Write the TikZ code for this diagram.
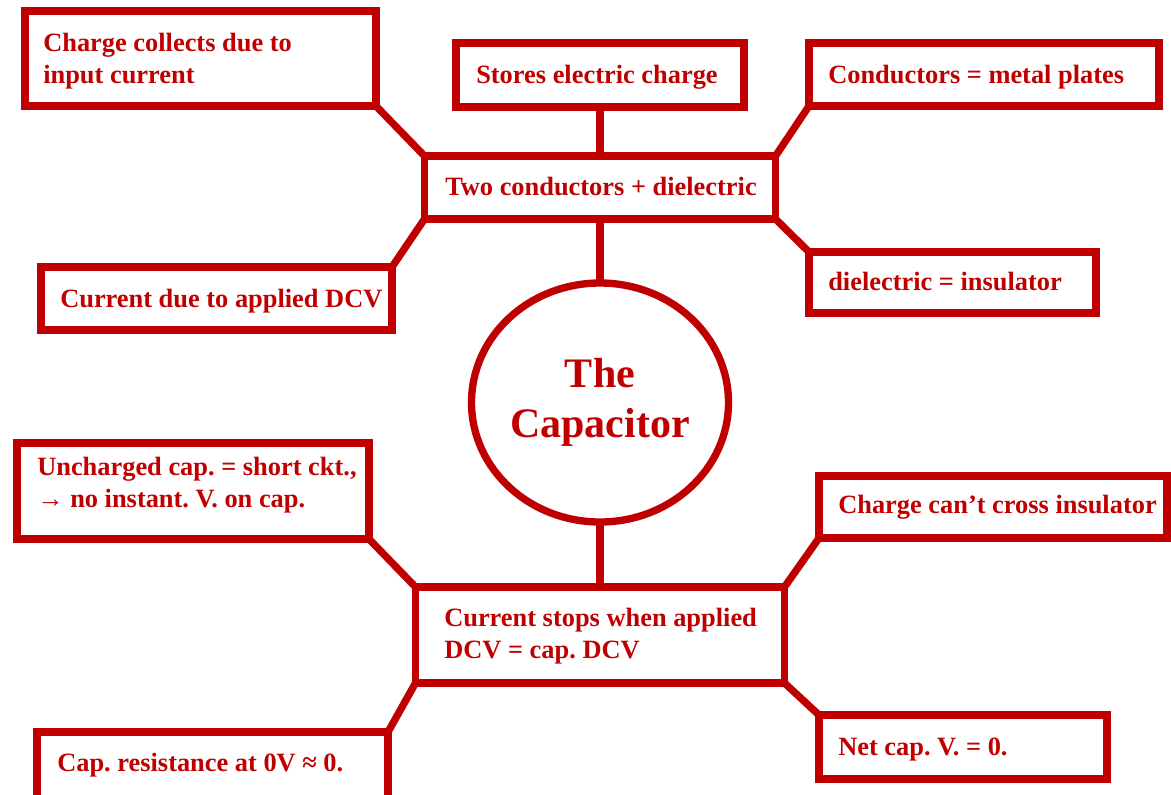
\documentclass[tikz,border=0pt]{standalone}
\usepackage{fontspec}
\setmainfont{Liberation Serif}
\usetikzlibrary{shapes.geometric}
\definecolor{capred}{RGB}{192,0,0}
\tikzset{
  bx/.style={draw=capred, line width=5.5pt, rectangle, outer sep=0pt, inner sep=0pt},
  link/.style={draw=capred, line width=5.5pt},
  txt/.style={text=capred, font=\frenchspacing\bfseries\fontsize{19.8}{24}\selectfont, anchor=base west, inner sep=0pt},
  mtxt/.style={txt, align=left},
  ctxt/.style={text=capred, font=\bfseries\fontsize{31.5}{37.5}\selectfont, align=center, inner sep=0pt, anchor=base},
}
\begin{document}
\begin{tikzpicture}[x=0.75pt,y=-0.75pt]
\useasboundingbox (0,0) rectangle (1171,794);
% boxes
\node[bx, minimum width=351*0.75pt, minimum height=95*0.75pt] (b1) at (200.5,58.5) {};
\node[bx, minimum width=288*0.75pt, minimum height=64*0.75pt] (b2) at (600,75) {};
\node[bx, minimum width=350*0.75pt, minimum height=63*0.75pt] (b3) at (984,74.5) {};
\node[bx, minimum width=351*0.75pt, minimum height=63*0.75pt] (b4) at (600,187.5) {};
\node[bx, minimum width=351*0.75pt, minimum height=63*0.75pt] (b5) at (216.5,298.5) {};
\node[bx, minimum width=287*0.75pt, minimum height=61*0.75pt] (b6) at (952.5,282.5) {};
\node[draw=capred, line width=5.5pt, ellipse, outer sep=0pt, inner sep=0pt, minimum width=257*0.75pt, minimum height=239*0.75pt] (cap) at (600,402.5) {};
\node[bx, minimum width=352*0.75pt, minimum height=96*0.75pt] (b8) at (193,491) {};
\node[bx, minimum width=348*0.75pt, minimum height=62*0.75pt] (b9) at (993,507) {};
\node[bx, minimum width=369*0.75pt, minimum height=96*0.75pt] (b10) at (600,635) {};
\node[bx, minimum width=351*0.75pt, minimum height=68*0.75pt] (b11) at (212.5,766) {};
\node[bx, minimum width=288*0.75pt, minimum height=64*0.75pt] (b12) at (963,747) {};
% connectors
\draw[link] (b1.south east) -- (b4.north west);
\draw[link] (b2.south) -- (b4.north);
\draw[link] (b3.south west) -- (b4.north east);
\draw[link] (b4.south west) -- (b5.north east);
\draw[link] (b4.south east) -- (b6.north west);
\draw[link] (b4.south) -- (cap.north);
\draw[link] (cap.south) -- (b10.north);
\draw[link] (b8.south east) -- (b10.north west);
\draw[link] (b9.south west) -- (b10.north east);
\draw[link] (b10.south west) -- (b11.north east);
\draw[link] (b10.south east) -- (b12.north west);
% texts (multi-line nodes are anchored at the baseline of their last line)
\node[mtxt] (t1) at (43,83) {Charge collects due to\\input current};
\node[txt] (t2) at (476,83) {Stores electric charge};
\node[txt] (t3) at (828,83) {Conductors = metal plates};
\node[txt] (t4) at (445,195) {Two conductors + dielectric};
\node[txt] (t5) at (60,307) {Current due to applied DCV};
\node[txt] (t6) at (828,290) {dielectric = insulator};
\node[ctxt] (tc) at (600,437) {The\\Capacitor};
\node[mtxt] (t8) at (37,507) {Uncharged cap. = short ckt.,\\{\mdseries →} no instant. V. on cap.};
\node[txt] (t9) at (838,513) {Charge can’t cross insulator};
\node[mtxt] (t10) at (444,658) {Current stops when applied\\DCV = cap. DCV};
\node[txt] (t11) at (57,771) {Cap. resistance at 0V ≈ 0.};
\node[txt] (t12) at (838,755) {Net cap. V. = 0.};
\end{tikzpicture}
\end{document}
